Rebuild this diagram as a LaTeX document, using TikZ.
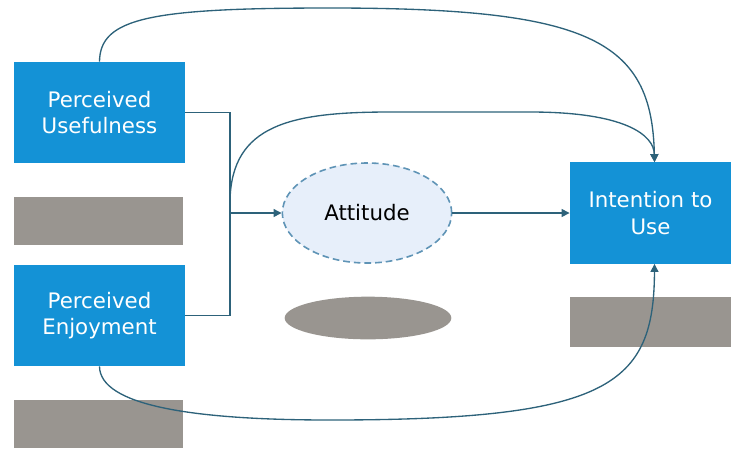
\documentclass[tikz,border=0pt]{standalone}
\usepackage{fontspec}
\setmainfont{DejaVu Sans}
\usetikzlibrary{positioning,arrows.meta,shapes.geometric}
\definecolor{boxblue}{RGB}{20,146,214}
\definecolor{linecol}{RGB}{45,98,122}
\definecolor{hidegrey}{RGB}{153,149,144}
\definecolor{attfill}{RGB}{231,239,250}
\definecolor{attline}{RGB}{95,148,182}
\tikzset{
    block/.style = {
        shape=rectangle,
        fill=boxblue,
        text=white,
        align=center,
        minimum height=76pt,
        minimum width=128pt,
        font=\fontsize{16}{20}\selectfont
    },
    attitude/.style = {
        draw=attline,
        shape=ellipse,
        dash pattern=on 5pt off 3pt,
        fill=attfill,
        minimum height=75pt,
        minimum width=127pt,
        line width=1.2pt,
        font=\fontsize{16}{20}\selectfont
    },
    hidden/.style = {
        shape=rectangle,
        fill=hidegrey,
        minimum height=36pt,
        minimum width=127pt
    },
    link/.style = {
        draw=linecol,
        line width=1pt
    },
    >={Triangle[length=6pt,width=6pt]},
}

\begin{document}
\begin{tikzpicture}[x=0.75pt,y=-0.75pt]
        \useasboundingbox (0,0) rectangle (731,451);

        \node[block] (pu) at (99.5,112.5) {Perceived\\Usefulness};
        \node[hidden] (hidA) at (98.5,221) {};
        \node[block] (pe) at (99.5,315.5) {Perceived\\Enjoyment};
        \node[hidden] (hidB) at (98.5,423.5) {};
        \node[attitude] (att) at (367,213) {Attitude};
        \node[hidden, shape=ellipse, minimum width=125pt, minimum height=32pt] (hidC) at (368,318) {};
        \node[block, minimum width=121pt] (itu) at (650.5,213) {Intention to\\Use};
        \node[hidden, minimum width=121pt, minimum height=37pt] (hidD) at (650.5,322) {};

        \coordinate (join) at (230,213);
        \coordinate (split) at (230,200);

        \path[link] (pu.east) -| (join);
        \path[link] (pe.east) -| (join);
        \path[link, ->] (join) -- (att.west);
        \path[link, ->] (att.east) -- (itu.west);

        \path[link, ->] (split) .. controls (232,125) and (290,112) .. (390,112)
            -- (530,112) .. controls (625,112) and (654,135) .. ([xshift=3pt]itu.north);
        \path[link, ->] (pu.north) .. controls (100,18) and (150,8) .. (330,8)
            .. controls (590,8) and (652,40) .. ([xshift=3pt]itu.north);
        \path[link, ->] (pe.south) .. controls (100,405) and (190,420) .. (330,420)
            .. controls (610,420) and (654,385) .. ([xshift=3pt]itu.south);
    \end{tikzpicture}
\end{document}
